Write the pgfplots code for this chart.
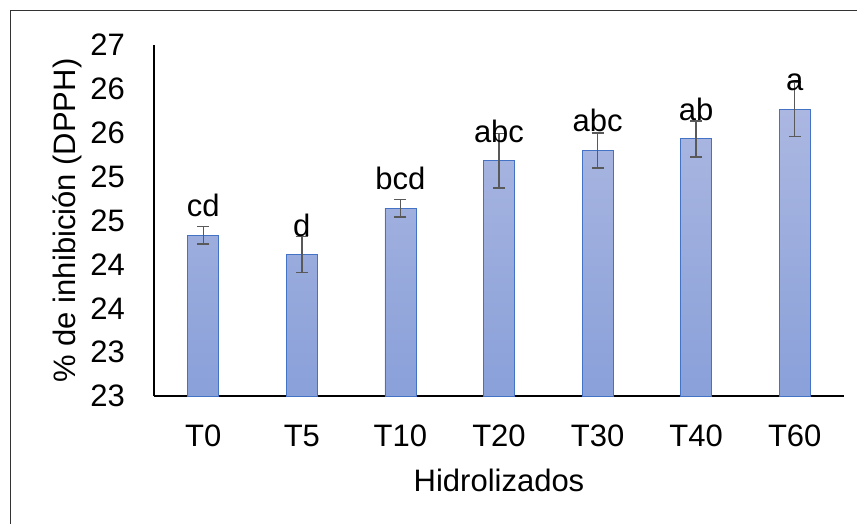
\documentclass[border=0pt]{standalone}
\usepackage{pgfplots}
\pgfplotsset{compat=1.18}
\usepackage{pgfplotstable}
\usepackage{fontspec}
\setmainfont{Liberation Sans}
\definecolor{barTop}{RGB}{171,183,225}
\definecolor{barBot}{RGB}{137,160,217}
\definecolor{barEdge}{RGB}{68,114,196}
\definecolor{errC}{RGB}{89,89,89}
\pgfplotstableread{
x y err lab
0 24.83 0.10 cd
1 24.61 0.205 d
2 25.14 0.10 bcd
3 25.68 0.31 abc
4 25.80 0.20 abc
5 25.93 0.205 ab
6 26.27 0.31 a
}\datatable
\begin{document}
\begin{tikzpicture}[x=1pt,y=1pt]
\useasboundingbox (0,0) rectangle (857,523);
\draw[line width=1pt, black!80] (10,-5) -- (10,512) -- (870,512);
\begin{axis}[
  at={(154pt,127pt)}, anchor=south west,
  scale only axis, width=690pt, height=351pt,
  xmin=-0.5, xmax=6.5, ymin=23, ymax=27,
  clip=false,
  axis x line*=bottom, axis y line*=left,
  axis line style={line width=1.5pt, black},
  xtick={0,...,6}, xticklabels={T0,T5,T10,T20,T30,T40,T60},
  ytick={23,23.5,...,27}, yticklabels={23,23,24,24,25,25,26,26,27},
  major tick length=0pt,
  tick label style={font=\fontsize{31}{36}\selectfont},
  xticklabel style={anchor=base, inner sep=0pt, yshift=-50pt},
  yticklabel style={anchor=east, inner sep=0pt, xshift=-29pt},
  xlabel={Hidrolizados}, ylabel={\% de inhibición (DPPH)},
  label style={font=\fontsize{31}{36}\selectfont},
  xlabel style={at={(axis description cs:0.5,-0.2707)}, anchor=base},
  ylabel style={at={(axis description cs:-0.126,0.5)}, anchor=center},
  ybar, bar width=31pt,
  /pgf/number format/assume math mode=true,
]
\addplot[draw=barEdge, line width=0.8pt, top color=barTop, bottom color=barBot,
  nodes near coords, point meta=explicit symbolic,
  every node near coord/.append style={inner sep=0pt, yshift=18pt, text=black, font=\fontsize{31}{36}\selectfont},
  error bars/.cd, y dir=both, y explicit,
  error bar style={line width=1.5pt, errC},
  error mark options={rotate=90, mark size=6pt, line width=1.5pt, errC}]
  table[x=x, y=y, y error=err, meta=lab]{\datatable};
\end{axis}
\end{tikzpicture}
\end{document}
